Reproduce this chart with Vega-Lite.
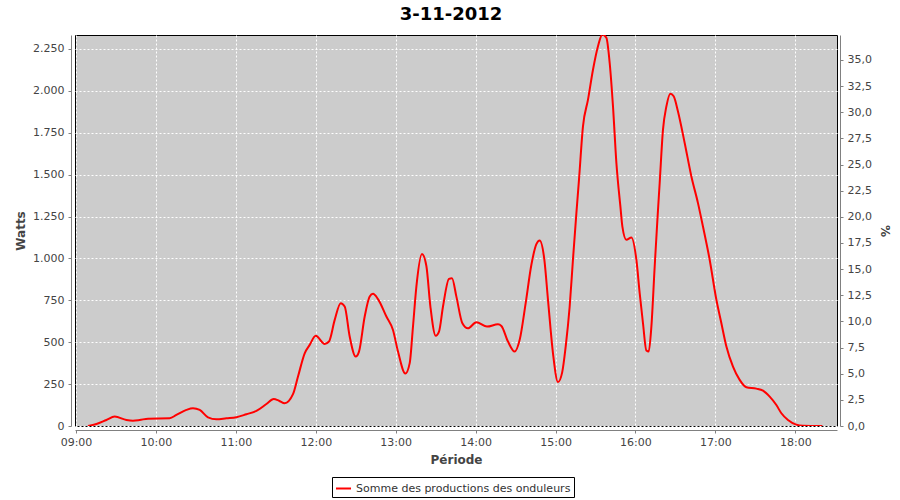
{
  "$schema": "https://vega.github.io/schema/vega-lite/v6.json",
  "width": 762,
  "height": 391,
  "autosize": {"type": "none"},
  "padding": {"left": 75, "top": 35, "right": 63, "bottom": 74},
  "background": "white",
  "title": {
    "text": "3-11-2012",
    "font": "DejaVu Sans",
    "fontSize": 18,
    "fontWeight": "bold",
    "color": "#000000",
    "anchor": "middle",
    "offset": 8,
    "dx": -5
  },
  "config": {
    "locale": {"number": {"decimal": ",", "thousands": ".", "grouping": [3], "currency": ["", " €"]}},
    "view": {"stroke": "#000000", "strokeWidth": 1, "fill": "#cccccc"},
    "axis": {
      "labelFont": "DejaVu Sans",
      "labelFontSize": 11,
      "labelColor": "#444444",
      "titleFont": "DejaVu Sans",
      "titleFontSize": 12,
      "titleFontWeight": "bold",
      "titleColor": "#444444",
      "domainColor": "#808080",
      "tickColor": "#808080",
      "tickSize": 3,
      "gridColor": "#ffffff",
      "gridDash": [2, 2],
      "gridOpacity": 1,
      "gridWidth": 1,
      "labelFlush": false
    }
  },
  "layer": [
    {
      "data": {
        "values": [
          {"t": "2012-11-03T09:09:00", "w": 0},
          {"t": "2012-11-03T09:15:19", "w": 12},
          {"t": "2012-11-03T09:22:49", "w": 36},
          {"t": "2012-11-03T09:29:03", "w": 56},
          {"t": "2012-11-03T09:37:50", "w": 36},
          {"t": "2012-11-03T09:42:47", "w": 32},
          {"t": "2012-11-03T09:47:49", "w": 36},
          {"t": "2012-11-03T09:54:03", "w": 44},
          {"t": "2012-11-03T10:10:20", "w": 46},
          {"t": "2012-11-03T10:15:22", "w": 66},
          {"t": "2012-11-03T10:22:53", "w": 96},
          {"t": "2012-11-03T10:27:50", "w": 106},
          {"t": "2012-11-03T10:32:52", "w": 96},
          {"t": "2012-11-03T10:39:05", "w": 52},
          {"t": "2012-11-03T10:45:24", "w": 40},
          {"t": "2012-11-03T10:52:55", "w": 46},
          {"t": "2012-11-03T11:00:25", "w": 52},
          {"t": "2012-11-03T11:07:55", "w": 70},
          {"t": "2012-11-03T11:15:26", "w": 90},
          {"t": "2012-11-03T11:22:56", "w": 131},
          {"t": "2012-11-03T11:28:25", "w": 161},
          {"t": "2012-11-03T11:32:23", "w": 151},
          {"t": "2012-11-03T11:36:40", "w": 136},
          {"t": "2012-11-03T11:42:54", "w": 190},
          {"t": "2012-11-03T11:46:40", "w": 295},
          {"t": "2012-11-03T11:51:41", "w": 434},
          {"t": "2012-11-03T11:55:26", "w": 484},
          {"t": "2012-11-03T11:59:57", "w": 538},
          {"t": "2012-11-03T12:06:42", "w": 490},
          {"t": "2012-11-03T12:09:56", "w": 504},
          {"t": "2012-11-03T12:14:13", "w": 633},
          {"t": "2012-11-03T12:18:43", "w": 733},
          {"t": "2012-11-03T12:21:43", "w": 713},
          {"t": "2012-11-03T12:25:28", "w": 534},
          {"t": "2012-11-03T12:29:59", "w": 414},
          {"t": "2012-11-03T12:32:27", "w": 444},
          {"t": "2012-11-03T12:36:44", "w": 653},
          {"t": "2012-11-03T12:40:29", "w": 772},
          {"t": "2012-11-03T12:42:58", "w": 789},
          {"t": "2012-11-03T12:46:43", "w": 757},
          {"t": "2012-11-03T12:53:01", "w": 653},
          {"t": "2012-11-03T12:57:58", "w": 573},
          {"t": "2012-11-03T13:01:44", "w": 444},
          {"t": "2012-11-03T13:07:17", "w": 313},
          {"t": "2012-11-03T13:10:31", "w": 375},
          {"t": "2012-11-03T13:12:59", "w": 593},
          {"t": "2012-11-03T13:15:32", "w": 832},
          {"t": "2012-11-03T13:19:44", "w": 1027},
          {"t": "2012-11-03T13:23:02", "w": 955},
          {"t": "2012-11-03T13:26:03", "w": 713},
          {"t": "2012-11-03T13:30:02", "w": 538},
          {"t": "2012-11-03T13:32:31", "w": 563},
          {"t": "2012-11-03T13:35:31", "w": 713},
          {"t": "2012-11-03T13:40:01", "w": 878},
          {"t": "2012-11-03T13:42:16", "w": 882},
          {"t": "2012-11-03T13:45:34", "w": 772},
          {"t": "2012-11-03T13:50:04", "w": 613},
          {"t": "2012-11-03T13:54:16", "w": 583},
          {"t": "2012-11-03T14:00:35", "w": 619},
          {"t": "2012-11-03T14:08:32", "w": 593},
          {"t": "2012-11-03T14:16:48", "w": 607},
          {"t": "2012-11-03T14:19:21", "w": 597},
          {"t": "2012-11-03T14:24:18", "w": 504},
          {"t": "2012-11-03T14:29:20", "w": 444},
          {"t": "2012-11-03T14:33:05", "w": 514},
          {"t": "2012-11-03T14:37:35", "w": 733},
          {"t": "2012-11-03T14:41:52", "w": 962},
          {"t": "2012-11-03T14:45:37", "w": 1085},
          {"t": "2012-11-03T14:48:06", "w": 1107},
          {"t": "2012-11-03T14:51:29", "w": 1000},
          {"t": "2012-11-03T14:54:20", "w": 753},
          {"t": "2012-11-03T14:58:05", "w": 434},
          {"t": "2012-11-03T15:01:50", "w": 262},
          {"t": "2012-11-03T15:04:59", "w": 320},
          {"t": "2012-11-03T15:07:37", "w": 474},
          {"t": "2012-11-03T15:10:37", "w": 713},
          {"t": "2012-11-03T15:13:06", "w": 995},
          {"t": "2012-11-03T15:15:39", "w": 1270},
          {"t": "2012-11-03T15:17:36", "w": 1469},
          {"t": "2012-11-03T15:20:36", "w": 1788},
          {"t": "2012-11-03T15:24:22", "w": 1947},
          {"t": "2012-11-03T15:28:07", "w": 2126},
          {"t": "2012-11-03T15:31:52", "w": 2266},
          {"t": "2012-11-03T15:35:10", "w": 2336},
          {"t": "2012-11-03T15:38:10", "w": 2316},
          {"t": "2012-11-03T15:40:39", "w": 2166},
          {"t": "2012-11-03T15:43:08", "w": 1907},
          {"t": "2012-11-03T15:45:41", "w": 1569},
          {"t": "2012-11-03T15:48:41", "w": 1310},
          {"t": "2012-11-03T15:50:11", "w": 1190},
          {"t": "2012-11-03T15:53:11", "w": 1111},
          {"t": "2012-11-03T15:56:56", "w": 1125},
          {"t": "2012-11-03T16:00:41", "w": 992},
          {"t": "2012-11-03T16:03:10", "w": 793},
          {"t": "2012-11-03T16:05:39", "w": 613},
          {"t": "2012-11-03T16:08:12", "w": 450},
          {"t": "2012-11-03T16:09:56", "w": 444},
          {"t": "2012-11-03T16:11:57", "w": 593},
          {"t": "2012-11-03T16:14:26", "w": 952},
          {"t": "2012-11-03T16:16:28", "w": 1230},
          {"t": "2012-11-03T16:18:11", "w": 1450},
          {"t": "2012-11-03T16:20:40", "w": 1768},
          {"t": "2012-11-03T16:23:13", "w": 1907},
          {"t": "2012-11-03T16:26:13", "w": 1983},
          {"t": "2012-11-03T16:28:42", "w": 1967},
          {"t": "2012-11-03T16:31:55", "w": 1877},
          {"t": "2012-11-03T16:36:57", "w": 1689},
          {"t": "2012-11-03T16:41:59", "w": 1489},
          {"t": "2012-11-03T16:46:56", "w": 1330},
          {"t": "2012-11-03T16:50:41", "w": 1190},
          {"t": "2012-11-03T16:55:43", "w": 992},
          {"t": "2012-11-03T17:00:45", "w": 753},
          {"t": "2012-11-03T17:04:30", "w": 613},
          {"t": "2012-11-03T17:08:16", "w": 474},
          {"t": "2012-11-03T17:13:13", "w": 354},
          {"t": "2012-11-03T17:18:14", "w": 275},
          {"t": "2012-11-03T17:23:16", "w": 231},
          {"t": "2012-11-03T17:30:47", "w": 223},
          {"t": "2012-11-03T17:35:44", "w": 211},
          {"t": "2012-11-03T17:40:46", "w": 175},
          {"t": "2012-11-03T17:45:47", "w": 125},
          {"t": "2012-11-03T17:49:32", "w": 76},
          {"t": "2012-11-03T17:54:30", "w": 36},
          {"t": "2012-11-03T18:00:48", "w": 8},
          {"t": "2012-11-03T18:05:46", "w": 2},
          {"t": "2012-11-03T18:20:19", "w": 0}
        ]
      },
      "mark": {"type": "line", "interpolate": "monotone", "strokeWidth": 2, "clip": true},
      "encoding": {
        "x": {
          "field": "t",
          "type": "temporal",
          "scale": {"domain": ["2012-11-03T08:59:15", "2012-11-03T18:31:18"], "nice": false},
          "axis": {
            "title": "Période",
            "format": "%H:%M",
            "values": ["2012-11-03T09:00:00", "2012-11-03T10:00:00", "2012-11-03T11:00:00", "2012-11-03T12:00:00", "2012-11-03T13:00:00", "2012-11-03T14:00:00", "2012-11-03T15:00:00", "2012-11-03T16:00:00", "2012-11-03T17:00:00", "2012-11-03T18:00:00"],
            "grid": true,
            "offset": 4,
            "labelPadding": 3,
            "titlePadding": 7
          }
        },
        "y": {
          "field": "w",
          "type": "quantitative",
          "scale": {"domain": [0, 2333], "nice": false},
          "axis": {
            "title": "Watts",
            "format": ",d",
            "values": [0, 250, 500, 750, 1000, 1250, 1500, 1750, 2000, 2250],
            "grid": true,
            "offset": 4,
            "labelPadding": 4,
            "titlePadding": 5
          }
        },
        "color": {
          "datum": "Somme des productions des onduleurs",
          "scale": {"range": ["#ff0000"]},
          "legend": {
            "title": null,
            "orient": "none",
            "legendX": 257,
            "legendY": 442,
            "strokeColor": "#000000",
            "padding": 3,
            "symbolType": "stroke",
            "symbolSize": 225,
            "symbolStrokeWidth": 2,
            "labelFont": "DejaVu Sans",
            "labelFontSize": 11,
            "labelColor": "#333333",
            "labelOffset": 4,
            "labelLimit": 400
          }
        }
      }
    },
    {
      "data": {"values": [{"pct": 0}, {"pct": 37.39}]},
      "mark": {"type": "point", "opacity": 0},
      "encoding": {
        "y": {
          "field": "pct",
          "type": "quantitative",
          "scale": {"domain": [0, 37.39], "nice": false},
          "axis": {
            "orient": "right",
            "title": "%",
            "format": ".1f",
            "values": [0, 2.5, 5, 7.5, 10, 12.5, 15, 17.5, 20, 22.5, 25, 27.5, 30, 32.5, 35],
            "grid": false,
            "offset": 3,
            "labelPadding": 4,
            "titlePadding": 6
          }
        }
      }
    }
  ],
  "resolve": {"scale": {"y": "independent"}}
}
